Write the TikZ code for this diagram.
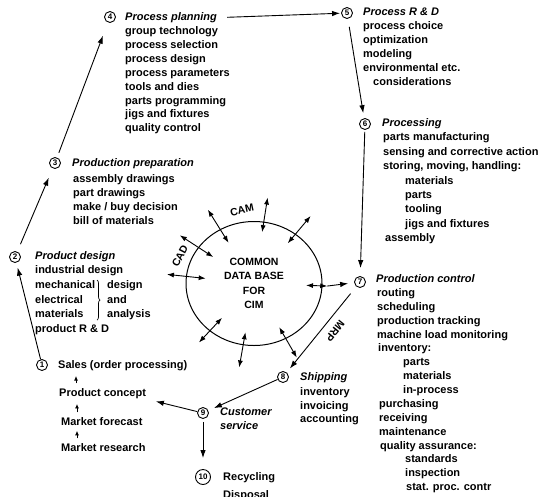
\documentclass[tikz,border=0pt]{standalone}
\usepackage{fontspec}
\setmainfont{Liberation Sans}
\usetikzlibrary{arrows.meta,shapes.geometric,calc,decorations.pathreplacing}
\begin{document}
\begin{tikzpicture}[x=1pt,y=-1pt,
  txt/.style={anchor=base west, inner sep=0pt, font=\fontsize{11}{13}\selectfont\bfseries},
  ttl/.style={anchor=base west, inner sep=0pt, font=\fontsize{11}{13}\selectfont\bfseries\itshape},
  lbl/.style={inner sep=0pt, font=\fontsize{10.5}{12}\selectfont\bfseries},
  num/.style={draw, circle, line width=0.9pt, inner sep=0pt, minimum size=11pt, font=\fontsize{8}{8}\selectfont\bfseries},
  arr/.style={line width=0.9pt, -{Latex[length=8pt,width=5.5pt]}},
  dbl/.style={line width=0.9pt, {Latex[length=7pt,width=5pt]}-{Latex[length=7pt,width=5pt]}},
  sarr/.style={line width=0.8pt, -{Latex[length=4.5pt,width=4pt]}, shorten <=5pt, shorten >=5pt},
]
\useasboundingbox (0,0) rectangle (551,496);

% ---- 4 Process planning
\node[num] (c4) at (110,17) {4};
\node[ttl] (t4) at (125,20.5) {Process planning};
\node[txt] (l4a) at (125,34.5) {group technology};
\node[txt] (l4b) at (125,48.4) {process selection};
\node[txt] (l4c) at (125,62.3) {process design};
\node[txt] (l4d) at (125,76.2) {process parameters};
\node[txt] (l4e) at (125,90.1) {tools and dies};
\node[txt] (l4f) at (125,104.0) {parts programming};
\node[txt] (l4g) at (125,117.9) {jigs and fixtures};
\node[txt] (l4h) at (125,131.8) {quality control};

% ---- 5 Process R & D
\node[num] (c5) at (347,13) {5};
\node[ttl] (t5) at (363,15.5) {Process R \& D};
\node[txt] (l5a) at (363,29.4) {process choice};
\node[txt] (l5b) at (363,43.3) {optimization};
\node[txt] (l5c) at (363,57.2) {modeling};
\node[txt] (l5d) at (363,71.1) {environmental etc.};
\node[txt] (l5e) at (373,85.0) {considerations};

% ---- 6 Processing
\node[num] (c6) at (365,124) {6};
\node[ttl] (t6) at (382,126.5) {Processing};
\node[txt] (l6a) at (383,140.9) {parts manufacturing};
\node[txt] (l6b) at (383,155.3) {sensing and corrective action};
\node[txt] (l6c) at (383,169.7) {storing, moving, handling:};
\node[txt] (l6d) at (405,184.1) {materials};
\node[txt] (l6e) at (405,198.5) {parts};
\node[txt] (l6f) at (405,212.9) {tooling};
\node[txt] (l6g) at (405,227.3) {jigs and fixtures};
\node[txt] (l6h) at (385,241.7) {assembly};

% ---- 7 Production control
\node[num] (c7) at (360,282) {7};
\node[ttl] (t7) at (376,282.5) {Production control};
\node[txt] (l7a) at (377,296.5) {routing};
\node[txt] (l7b) at (377,310.4) {scheduling};
\node[txt] (l7c) at (377,324.2) {production tracking};
\node[txt] (l7d) at (377,338.1) {machine load monitoring};
\node[txt] (l7e) at (378,351.9) {inventory:};
\node[txt] (l7f) at (403,365.8) {parts};
\node[txt] (l7g) at (403,379.7) {materials};
\node[txt] (l7h) at (403,393.5) {in-process};
\node[txt] (l7i) at (379,407.4) {purchasing};
\node[txt] (l7j) at (379,421.2) {receiving};
\node[txt] (l7k) at (379,435.1) {maintenance};
\node[txt] (l7l) at (380,449.0) {quality assurance:};
\node[txt] (l7m) at (405,462.8) {standards};
\node[txt] (l7n) at (405,476.7) {inspection};
\node[txt] (l7o) at (406,490.5) {stat. proc. contr};

% ---- 8 Shipping
\node[num] (c8) at (283,377) {8};
\node[ttl] (t8) at (300,380.5) {Shipping};
\node[txt] (l8a) at (300,395.5) {inventory};
\node[txt] (l8b) at (300,409.0) {invoicing};
\node[txt] (l8c) at (300,422.5) {accounting};

% ---- 9 Customer service
\node[num] (c9) at (203,413) {9};
\node[ttl] (t9a) at (220,415) {Customer};
\node[ttl] (t9b) at (220,429) {service};

% ---- 10 Recycling
\node[num, minimum size=15pt] (c10) at (203,477) {10};
\node[txt] (l10a) at (223,480.5) {Recycling};
\node[txt] (l10b) at (223,498) {Disposal};

% ---- 1 Sales
\node[num] (c1) at (42,365) {1};
\node[txt] (sales) at (58,368.5) {Sales (order processing)};
\node[txt] (pc) at (59,396.5) {Product concept};
\node[txt] (pf) at (61,425.5) {Market forecast};
\node[txt] (mr) at (61,451.5) {Market research};
\draw[sarr] ($(pc.north west)+(17,0)$) -- ($(pc.north west |- sales.south)+(17,0)$);
\draw[sarr] ($(pf.north west)+(16,0)$) -- ($(pf.north west |- pc.south)+(16,0)$);
\draw[sarr] ($(mr.north west)+(16,0)$) -- ($(mr.north west |- pf.south)+(16,0)$);

% ---- 2 Product design
\node[num] (c2) at (15,257) {2};
\node[ttl] (t2) at (35,259.5) {Product design};
\node[txt] (l2a) at (35,273.5) {industrial design};
\node[txt] (l2b) at (35,288.5) {mechanical};
\node[txt] (l2c) at (35,303.5) {electrical};
\node[txt] (l2d) at (35,317.5) {materials};
\node[txt] (l2e) at (35,332.5) {product R \& D};
\node[txt] (l2f) at (107,288.5) {design};
\node[txt] (l2g) at (107,303.5) {and};
\node[txt] (l2h) at (107,317.5) {analysis};
\draw[line width=0.7pt, decorate, decoration={brace, amplitude=3pt}] (97,280) -- (97,320);

% ---- 3 Production preparation
\node[num] (c3) at (55,163) {3};
\node[ttl] (t3) at (72,166.5) {Production preparation};
\node[txt] (l3a) at (73,182.5) {assembly drawings};
\node[txt] (l3b) at (73,196.5) {part drawings};
\node[txt] (l3c) at (73,210.5) {make / buy decision};
\node[txt] (l3d) at (73,224.5) {bill of materials};

% ---- common data base
\node[draw, ellipse, line width=1pt, minimum width=136pt, minimum height=124pt,
      inner sep=0pt, align=center, font=\fontsize{10.5}{14.5}\selectfont\bfseries]
      (db) at (254,283.5) {COMMON\\DATA BASE\\FOR\\CIM};
\node[lbl, rotate=12] (cam) at (242,210) {CAM};
\node[lbl, rotate=62] (cad) at (180,256) {CAD};
\node[lbl, rotate=-129] (mrp) at (335,331) {MRP};

\foreach \a/\i/\o in {122/0.75/1.36, 81/0.83/1.39, 50/0.81/1.36, 300/0.79/1.34,
                      260/0.79/1.36, 227/0.72/1.24, 174/0.71/1.28, 147/0.73/1.33}
  \draw[dbl] ($(db.center)!\i!(db.\a)$) -- ($(db.center)!\o!(db.\a)$);
\draw[dbl] ($(db.center)!0.76!(db.358)$) -- ($(db.center)!1.07!(db.358)$) coordinate (rmid);
\draw[arr, shorten >=6pt] (rmid) -- (c7);

% ---- main flow
\draw[arr, shorten >=5pt] (c1) -- (c2);
\draw[arr, shorten <=8pt, shorten >=10pt] (c2) -- (c3);
\draw[arr, shorten <=5pt, shorten >=14pt] (c3) -- (c4);
\draw[arr, shorten <=10pt, shorten >=1pt] (t4.east) -- (c5);
\draw[arr, shorten <=8pt, shorten >=5pt] (c5) -- (c6);
\draw[arr, shorten <=2pt, shorten >=8pt] (c6) -- (c7);
\draw[arr, shorten <=9pt, shorten >=5pt] (c7) -- (c8);
\draw[arr, shorten >=6pt] (c8) -- (c9);
\draw[arr, shorten >=10pt] (c9) -- (pc.south east);
\draw[arr, shorten <=3pt, shorten >=11pt] (c9) -- (c10);
\end{tikzpicture}
\end{document}
